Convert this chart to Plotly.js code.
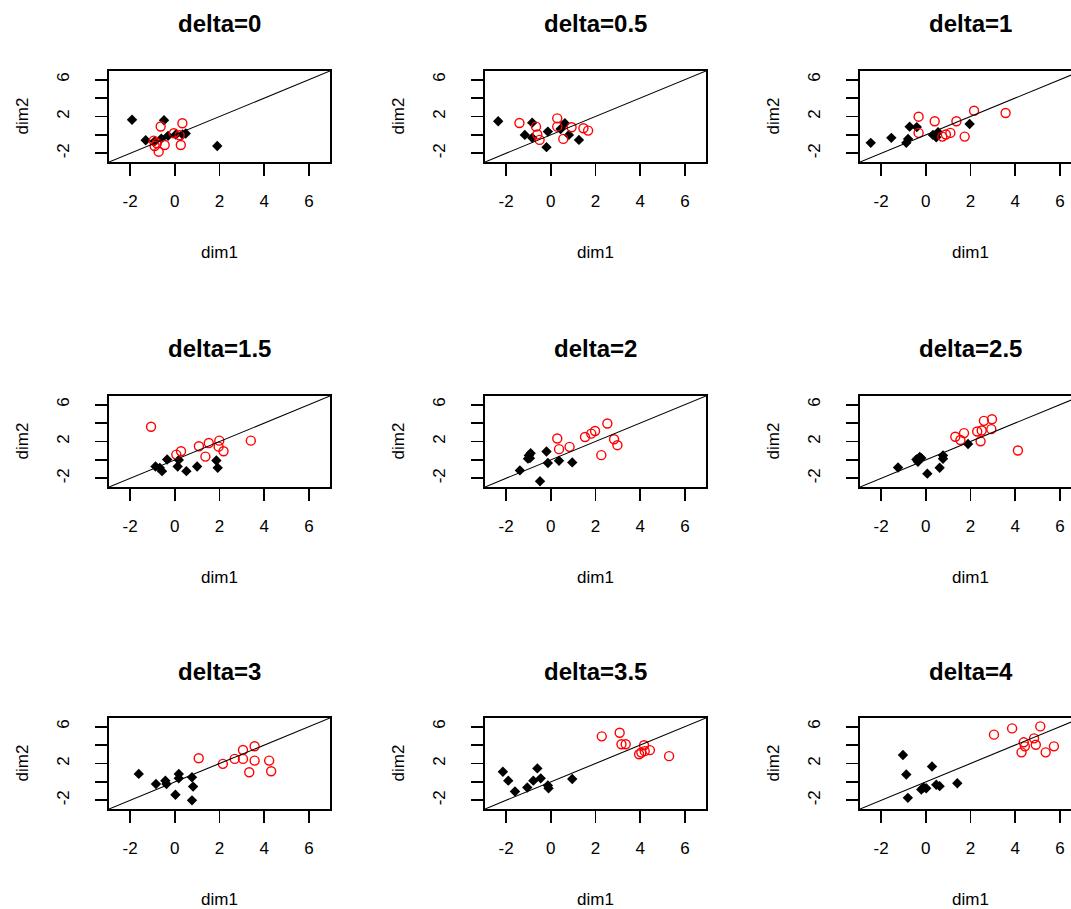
<!DOCTYPE html>
<html>
<head>
<meta charset="utf-8">
<script src="https://cdn.plot.ly/plotly-3.0.1.min.js"></script>
<style>html,body{margin:0;padding:0;overflow:hidden;background:#fff;}#chart{width:1100px;height:909px;}</style>
</head>
<body>
<div id="chart"></div>
<script>
// ---- data ----
const panelTitles = ['delta=0','delta=0.5','delta=1','delta=1.5','delta=2','delta=2.5','delta=3','delta=3.5','delta=4'];

const blackX = [
  [-1.91,-0.48,-1.30,1.90,0.49,-0.90,-0.60,-0.30,0.05,0.35],
  [-2.35,-0.83,-1.16,-0.83,-0.13,-0.19,0.63,0.44,0.81,1.26],
  [-2.46,-1.54,-0.87,-0.72,-0.79,-0.40,0.32,0.47,0.55,1.96],
  [-0.86,-0.67,-0.57,-0.34,0.18,0.13,0.52,1.00,1.86,1.92],
  [-1.38,-0.98,-0.90,-1.02,-0.19,-0.13,0.37,0.96,-0.48,-0.93],
  [-1.24,-0.42,-0.27,-0.35,0.07,0.62,0.77,0.77,1.89,-0.20],
  [-1.61,-0.84,-0.42,-0.37,0.18,0.18,0.77,0.82,0.03,0.77],
  [-2.14,-1.90,-1.60,-1.05,-0.78,-0.60,-0.45,-0.13,-0.10,0.96],
  [-1.02,-0.87,-0.80,-0.20,0.02,0.28,0.47,0.62,1.41,-0.10]
];
const blackY = [
  [1.64,1.60,-0.58,-1.20,0.15,-0.70,-0.40,-0.10,0.05,0.05],
  [1.48,1.33,0.00,-0.32,0.36,-1.33,1.26,0.65,0.00,-0.54],
  [-0.86,-0.32,-0.86,0.90,-0.43,0.85,0.00,-0.25,0.30,1.19],
  [-0.72,-0.86,-1.22,0.04,0.00,-0.72,-1.22,-0.72,-0.07,-0.86],
  [-1.14,0.48,0.73,0.14,0.92,-0.34,-0.09,-0.27,-2.31,0.19],
  [-0.82,0.04,0.33,-0.21,-1.49,-0.85,0.12,0.48,1.73,0.20],
  [0.87,-0.22,0.14,-0.22,0.86,0.39,0.50,-0.51,-1.39,-2.00],
  [1.11,0.14,-1.04,-0.61,0.14,1.47,0.39,-0.39,-0.70,0.32],
  [2.93,0.80,-1.73,-0.83,-0.69,1.67,-0.31,-0.46,-0.14,-0.60]
];
const redX = [
  [-0.63,0.34,-0.04,0.22,0.27,-0.94,-0.90,-0.72,-0.45,-0.80],
  [-1.40,-0.66,-0.60,-0.50,0.29,0.29,0.93,0.56,1.46,1.67],
  [-0.32,-0.32,0.40,0.74,1.10,1.37,1.74,2.16,3.57,0.90],
  [-1.06,0.07,0.28,1.08,1.37,1.52,1.99,1.96,2.18,3.40],
  [0.29,0.37,0.84,1.53,1.81,1.98,2.53,2.83,2.98,2.26],
  [1.32,1.55,1.71,2.30,2.45,2.60,2.96,2.93,2.50,4.12],
  [1.07,2.15,2.68,3.05,3.05,3.57,3.57,3.33,4.22,4.31],
  [2.28,3.08,3.16,3.35,3.95,4.17,4.20,4.43,5.29,4.05],
  [3.05,3.86,5.12,4.38,4.84,4.92,4.28,4.43,5.36,5.73]
];
const redY = [
  [0.91,1.27,0.18,-0.04,-1.09,-0.62,-1.20,-1.82,-1.09,-0.90],
  [1.30,0.90,0.04,-0.54,1.80,0.90,0.83,-0.43,0.72,0.47],
  [1.98,0.22,1.48,-0.18,0.22,1.48,-0.18,2.63,2.38,0.05],
  [3.60,0.58,0.94,1.48,0.36,1.84,2.09,1.44,0.94,2.09],
  [2.32,1.17,1.42,2.49,2.85,3.14,3.96,2.24,1.60,0.52],
  [2.52,2.16,2.91,3.09,2.02,4.24,4.42,3.34,3.20,1.02],
  [2.57,1.96,2.50,3.47,2.50,3.87,2.31,1.05,2.31,1.16],
  [4.95,5.34,4.09,4.09,3.01,3.98,3.34,3.45,2.80,3.20],
  [5.13,5.81,6.03,4.30,4.73,4.04,3.21,3.86,3.21,3.86]
];

const tickVals = [-2, 0, 2, 4, 6];
const xTickText = ['-2', '0', '2', '4', '6'];
const yTickText = ['-2', '', '2', '', '6'];
const axisRange = [-2.94, 6.94];   // shared xlim / ylim
const xTitle = 'dim1';
const yTitle = 'dim2';

// ---- layout geometry (pixels) ----
const W = 1100, H = 909;
const colLeft = [109, 485, 860];
const rowTop = [71, 396, 718];
const boxW = 221, boxH = 91;
const FONT = '"Liberation Sans", Arial, sans-serif';

const traces = [];
const layout = {
  width: W, height: H,
  margin: {l: 0, r: 0, t: 0, b: 0},
  paper_bgcolor: '#fff', plot_bgcolor: '#fff',
  showlegend: false,
  font: {family: FONT, color: '#000', size: 17},
  annotations: []
};

function px2x(p) { return p / W; }
function px2y(p) { return 1 - p / H; }

for (let i = 0; i < 9; i++) {
  const r = Math.floor(i / 3), c = i % 3;
  const sfx = i === 0 ? '' : String(i + 1);
  const xa = 'x' + sfx, ya = 'y' + sfx;
  const common = {
    range: axisRange, autorange: false,
    showgrid: false, zeroline: false,
    showline: true, mirror: true, linecolor: '#000', linewidth: 1.8,
    ticks: 'outside', ticklen: 12, tickwidth: 1.8, tickcolor: '#000',
    tickmode: 'array', tickvals: tickVals,
    tickfont: {family: FONT, size: 17, color: '#000'},
    fixedrange: true
  };
  layout['xaxis' + sfx] = Object.assign({}, common, {
    domain: [px2x(colLeft[c]), px2x(colLeft[c] + boxW)],
    anchor: ya, ticktext: xTickText, ticklabelstandoff: 11
  });
  layout['yaxis' + sfx] = Object.assign({}, common, {
    domain: [px2y(rowTop[r] + boxH), px2y(rowTop[r])],
    anchor: xa, ticktext: yTickText, tickangle: -90, ticklabelstandoff: 19
  });

  traces.push({
    type: 'scatter', mode: 'markers', xaxis: xa, yaxis: ya,
    x: blackX[i], y: blackY[i],
    marker: {symbol: 'diamond', size: 8, color: '#000', line: {width: 0}},
    hoverinfo: 'x+y'
  });
  traces.push({
    type: 'scatter', mode: 'markers', xaxis: xa, yaxis: ya,
    x: redX[i], y: redY[i],
    marker: {symbol: 'circle-open', size: 9, color: '#ff0000', line: {width: 1.4}},
    hoverinfo: 'x+y'
  });
  traces.push({
    type: 'scatter', mode: 'lines', xaxis: xa, yaxis: ya,
    x: axisRange, y: axisRange,
    line: {color: '#000', width: 1.1},
    hoverinfo: 'skip'
  });

  const cx = colLeft[c] + boxW / 2;
  layout.annotations.push({
    xref: 'paper', yref: 'paper', x: px2x(cx), y: px2y(rowTop[r] - 47),
    xanchor: 'center', yanchor: 'middle', showarrow: false,
    text: '<b>' + panelTitles[i] + '</b>',
    font: {family: FONT, size: 24, color: '#000'}
  });
  layout.annotations.push({
    xref: 'paper', yref: 'paper', x: px2x(cx), y: px2y(rowTop[r] + boxH + 90),
    xanchor: 'center', yanchor: 'middle', showarrow: false,
    text: xTitle, font: {family: FONT, size: 17, color: '#000'}
  });
  layout.annotations.push({
    xref: 'paper', yref: 'paper', x: px2x(colLeft[c] - 87), y: px2y(rowTop[r] + boxH / 2),
    xanchor: 'center', yanchor: 'middle', showarrow: false, textangle: -90,
    text: yTitle, font: {family: FONT, size: 17, color: '#000'}
  });
}

Plotly.newPlot('chart', traces, layout, {staticPlot: true, displayModeBar: false});
</script>
</body>
</html>
